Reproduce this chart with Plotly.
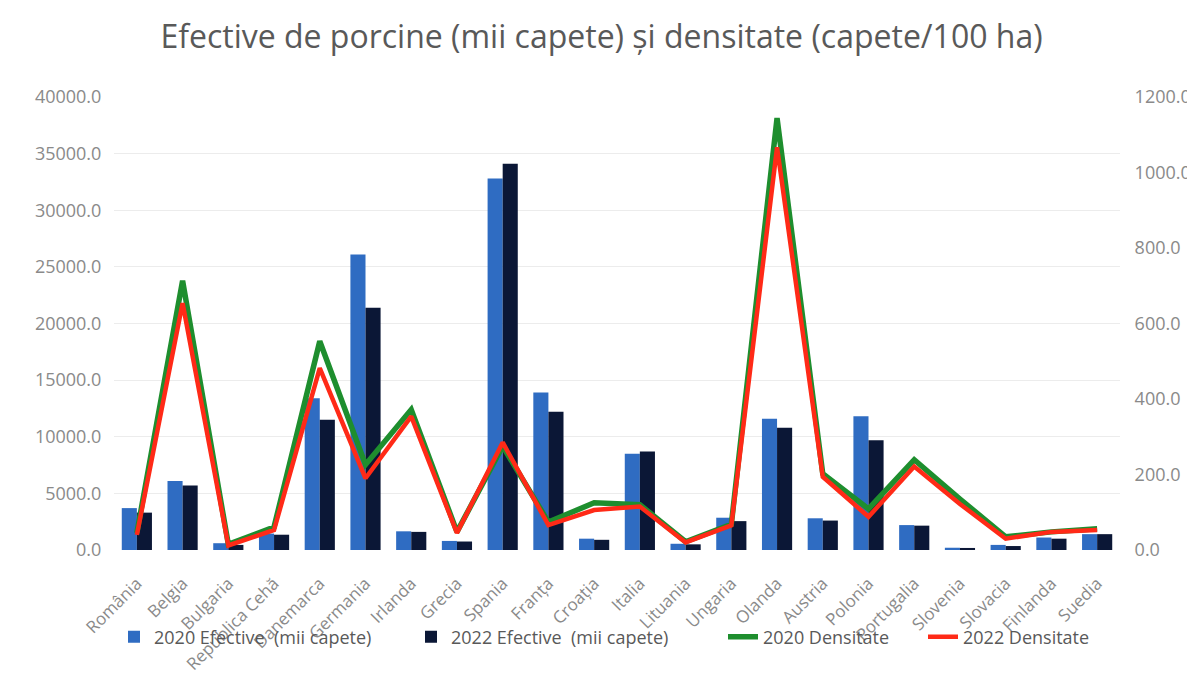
import plotly.graph_objects as go

countries = ["România", "Belgia", "Bulgaria", "Republica Cehă", "Danemarca", "Germania",
             "Irlanda", "Grecia", "Spania", "Franța", "Croația", "Italia", "Lituania",
             "Ungaria", "Olanda", "Austria", "Polonia", "Portugalia", "Slovenia",
             "Slovacia", "Finlanda", "Suedia"]

efective_2020 = [3700, 6100, 600, 1450, 13400, 26100, 1650, 800, 32800, 13900, 1000, 8500,
                 550, 2850, 11600, 2800, 11800, 2200, 200, 450, 1100, 1400]
efective_2022 = [3300, 5700, 450, 1350, 11500, 21400, 1600, 750, 34100, 12200, 900, 8700,
                 500, 2550, 10800, 2600, 9700, 2150, 180, 350, 1000, 1400]

densitate_2020 = [45, 713, 15, 61, 553, 226, 372, 48, 275, 74, 125, 120, 22, 68, 1144,
                  202, 109, 239, 135, 35, 48, 56]
densitate_2022 = [40, 654, 12, 53, 482, 190, 354, 45, 285, 66, 106, 115, 20, 65, 1067,
                  194, 88, 221, 122, 30, 48, 53]

left_ticks = [0, 5000, 10000, 15000, 20000, 25000, 30000, 35000, 40000]
right_ticks = [0, 200, 400, 600, 800, 1000, 1200]

FONT = "Open Sans"
GRAY = "#8a8a8a"
W, H = 1187, 670

fig = go.Figure()
fig.add_trace(go.Bar(x=countries, y=efective_2020, name="2020 Efective  (mii capete)",
                     marker=dict(color="#2F6CC2", line=dict(width=0)), legend="legend"))
fig.add_trace(go.Bar(x=countries, y=efective_2022, name="2022 Efective  (mii capete)",
                     marker=dict(color="#0B1736", line=dict(width=0)), legend="legend"))
fig.add_trace(go.Scatter(x=countries, y=densitate_2020, name="2020 Densitate", yaxis="y2",
                         mode="lines", line=dict(color="#1E8E2E", width=5.5),
                         legend="legend2"))
fig.add_trace(go.Scatter(x=countries, y=densitate_2022, name="2022 Densitate", yaxis="y2",
                         mode="lines", line=dict(color="#FF2A17", width=4.5),
                         legend="legend2"))

legend_font = dict(family=FONT, size=18, color="#595959")

fig.update_layout(
    width=W, height=H,
    paper_bgcolor="white", plot_bgcolor="white",
    margin=dict(l=106, r=75, t=89, b=128),
    font=dict(family=FONT, color=GRAY, size=16),
    title=dict(text="Efective de porcine (mii capete) și densitate (capete/100 ha)",
               x=0.5, xref="container", yref="container", y=1 - 29 / H,
               xanchor="center", yanchor="middle",
               font=dict(family=FONT, size=32, color="#595959")),
    barmode="group", bargap=0.34, bargroupgap=0,
    showlegend=True,
    legend=dict(orientation="h", x=0.0, xanchor="left", y=-0.192, yanchor="middle",
                font=legend_font, bgcolor="rgba(0,0,0,0)", itemwidth=30,
                entrywidth=252),
    legend2=dict(orientation="h", x=(723 - 114) / 1006, xanchor="left", y=-0.192,
                 yanchor="middle", font=legend_font, bgcolor="rgba(0,0,0,0)",
                 itemwidth=30, entrywidth=155),
    xaxis=dict(tickangle=-45, tickfont=dict(size=17, color=GRAY), showgrid=False,
               showline=False, ticks="outside", ticklen=16, tickcolor="rgba(0,0,0,0)",
               automargin=False),
    yaxis=dict(range=[0, 40000], tickvals=left_ticks,
               ticktext=[f"{v:.1f}" for v in left_ticks],
               tickfont=dict(size=18, color=GRAY), showgrid=True, gridcolor="#ececec",
               gridwidth=1, zeroline=False, showline=False, ticks="outside",
               ticklen=8, tickcolor="rgba(0,0,0,0)", automargin=False),
    yaxis2=dict(range=[0, 1200], tickvals=right_ticks,
                ticktext=[f"{v:.1f}" for v in right_ticks],
                tickfont=dict(size=18, color=GRAY), overlaying="y", side="right",
                showgrid=False, zeroline=False, showline=False, ticks="outside",
                ticklen=10, tickcolor="rgba(0,0,0,0)", automargin=False),
)

fig.write_html("out.html")
